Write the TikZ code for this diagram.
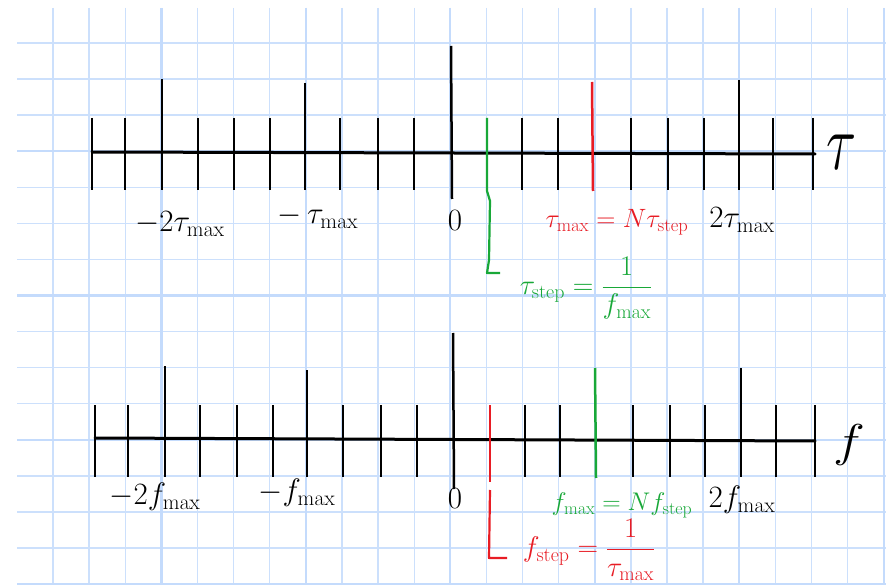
\RequirePackage{fix-cm}
\documentclass[tikz,border=0pt]{standalone}
\usepackage{amsmath}
\usepackage{graphicx}
\definecolor{gridc}{RGB}{204,224,252}
\definecolor{gridd}{RGB}{196,219,252}
\definecolor{penred}{RGB}{232,28,36}
\definecolor{pengreen}{RGB}{24,168,56}
\begin{document}
\begin{tikzpicture}[x=1pt,y=-1pt,
  gridthin/.style={draw=gridc,line width=1.4pt},
  gridthick/.style={draw=gridd,line width=2.3pt},
  axisline/.style={line width=3pt,line cap=round},
  tickline/.style={line width=2.5pt},
  leader/.style={line width=2.2pt,line join=round},
  lbl/.style={inner sep=0pt,font=\fontsize{31}{33}\selectfont},
  eqa/.style={inner sep=0pt,font=\fontsize{26.5}{28}\selectfont},
  eqb/.style={inner sep=0pt,font=\fontsize{25.5}{27}\selectfont},
  fracl/.style={inner sep=0pt,font=\fontsize{28.5}{30}\selectfont},
  axlbl/.style={inner sep=0pt,font=\fontsize{40}{42}\selectfont}]
\useasboundingbox (0,0) rectangle (886,585);
\fill[white] (0,0) rectangle (886,585);
% grid paper
\foreach \k in {0,...,23} \draw[gridthin] ({53+36.12*\k},8) -- ({53+36.12*\k},585);
\foreach \k in {0,...,15} \draw[gridthin] (17,{43+36.07*\k}) -- (886,{43+36.07*\k});
\foreach \k in {3,7,...,23} \draw[gridthick] ({53+36.12*\k},8) -- ({53+36.12*\k},585);
\foreach \k in {3,7,11,15} \draw[gridthick] (17,{43+36.07*\k}) -- (886,{43+36.07*\k});

% ---------- top axis (tau) ----------
\draw[axisline] (92,152) -- (815,154);
\foreach \x in {92,125,198,234,270,340,378,414,522,558,631,668,704,773,813}
  \draw[tickline] (\x,118) -- (\x,190);
\foreach \x/\t in {162/79,305/83,739/80}
  \draw[tickline] (\x,\t) -- (\x,190);
\draw[tickline] (451,46) -- (452,199);
\draw[tickline,penred] (592,82) -- (593,191);
\draw[leader,pengreen] (487,118) -- (487,191) -- (490,201) -- (489,260) -- (487,273) -- (500,273);

\node[axlbl] (tau) at (842,152) {\scalebox{1.4}[2.0]{$\tau$}};
\node[lbl] (tm2) at (180,224) {$-2\tau_{\max}$};
\node[lbl] (tm1) at (318,217) {$-\,\tau_{\max}$};
\node[lbl] (tz) at (455,221) {$0$};
\node[eqa,text=penred] (tmaxeq) at (617,222) {$\tau_{\max}=N\tau_{\mathrm{step}}$};
\node[lbl] (tp2) at (742,220) {$2\tau_{\max}$};
\node[fracl,text=pengreen] (tstep) at (586,288) {$\tau_{\mathrm{step}}=\dfrac{1}{f_{\max}}$};

% ---------- bottom axis (f) ----------
\draw[axisline] (95,438) -- (815,441);
\foreach \x in {95,128,200,237,273,343,381,417,525,560,633,670,705,776,815}
  \draw[tickline] (\x,405) -- (\x,477);
\foreach \x/\t in {165/366,307/370,741/368}
  \draw[tickline] (\x,\t) -- (\x,477);
\draw[tickline] (453,333) -- (454,489);
\draw[tickline,pengreen] (595,368) -- (596,478);
\draw[tickline,penred] (490,405) -- (490,482);
\draw[leader,penred] (490,490) -- (489,558) -- (507,558);

\node[axlbl] (fax) at (849,445) {\scalebox{1.35}[1.15]{$f$}};
\node[lbl] (fm2) at (155,497) {$-2f_{\max}$};
\node[lbl] (fm1) at (297,493) {$-f_{\max}$};
\node[lbl] (fz) at (455,499) {$0$};
\node[eqb,text=pengreen] (fmaxeq) at (622,505) {$f_{\max}=Nf_{\mathrm{step}}$};
\node[lbl] (fp2) at (742,500) {$2f_{\max}$};
\node[fracl,text=penred] (fstep) at (589,550) {$f_{\mathrm{step}}=\dfrac{1}{\tau_{\max}}$};
\end{tikzpicture}
\end{document}
